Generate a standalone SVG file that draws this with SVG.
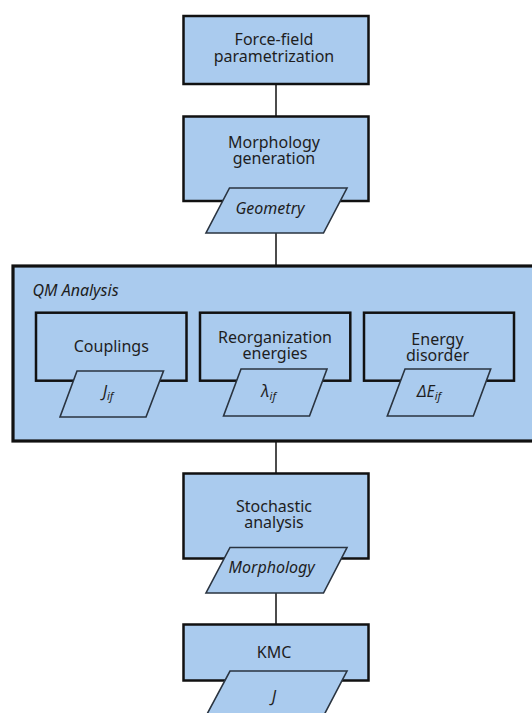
<svg xmlns="http://www.w3.org/2000/svg" width="532" height="713" viewBox="0 0 532 713">
<style>
.box{fill:#aacbee;stroke:#111;stroke-width:2.5}
.big{fill:#aacbee;stroke:#111;stroke-width:3.2}
.para{fill:#aacbee;stroke:#2a3440;stroke-width:1.6}
.conn{stroke:#111;stroke-width:1.5;fill:none}
text{font-family:"Noto Sans","Open Sans","DejaVu Sans",sans-serif;font-size:16px;fill:#1e1e1e;text-anchor:middle}
.it{font-style:italic}
.sub{font-size:11px}
.lab{text-anchor:start}
</style>
<rect x="0" y="0" width="532" height="713" fill="#fff"/>
<g id="connectors">
<line class="conn" x1="276" y1="84" x2="276" y2="116"/>
<line class="conn" x1="276" y1="233" x2="276" y2="266"/>
<line class="conn" x1="276" y1="441" x2="276" y2="473"/>
<line class="conn" x1="276" y1="593" x2="276" y2="625"/>
</g>
<g id="forcefield">
<rect class="box" x="183.5" y="16" width="185" height="68"/>
<text x="274" y="45">Force-field</text>
<text x="274" y="61.5">parametrization</text>
</g>
<g id="morphgen">
<rect class="box" x="183.5" y="116.5" width="185" height="84.5"/>
<text x="274" y="148.3">Morphology</text>
<text x="274" y="164.3">generation</text>
</g>
<g id="geometry">
<polygon class="para" points="229.5,188 347,188 323.5,233 206,233"/>
<text class="it" x="270" y="214.3">Geometry</text>
</g>
<g id="qm">
<rect class="big" x="13" y="266" width="540" height="175"/>
<text class="it lab" x="32.5" y="295.7">QM Analysis</text>
</g>
<g id="couplings">
<rect class="box" x="36" y="312.7" width="150.5" height="68"/>
<text x="111.3" y="352">Couplings</text>
</g>
<g id="jif">
<polygon class="para" points="77,371 163.5,371 146,417 60,417"/>
<text class="it" x="108" y="397"><tspan>J</tspan><tspan class="sub" dy="3">if</tspan></text>
</g>
<g id="reorg">
<rect class="box" x="200" y="312.7" width="150.3" height="68"/>
<text x="275" y="343.3">Reorganization</text>
<text x="275" y="359.3">energies</text>
</g>
<g id="lambda">
<polygon class="para" points="241,369 327,369 309.5,416 223.5,416"/>
<text class="it" x="268.5" y="397"><tspan>λ</tspan><tspan class="sub" dy="3">if</tspan></text>
</g>
<g id="energy">
<rect class="box" x="364" y="312.7" width="150" height="68"/>
<text x="437.5" y="345">Energy</text>
<text x="437.5" y="360.5">disorder</text>
</g>
<g id="deltae">
<polygon class="para" points="405,369 490.7,369 473.3,416 387.3,416"/>
<text class="it" x="429" y="397"><tspan>ΔE</tspan><tspan class="sub" dy="3">if</tspan></text>
</g>
<g id="stochastic">
<rect class="box" x="183.5" y="473.5" width="185" height="85"/>
<text x="274" y="512.3">Stochastic</text>
<text x="274" y="528.3">analysis</text>
</g>
<g id="morphology">
<polygon class="para" points="230,547.5 347,547.5 323.5,593 206,593"/>
<text class="it" x="271.7" y="573.3">Morphology</text>
</g>
<g id="kmc">
<rect class="box" x="183.5" y="624.5" width="185" height="56"/>
<text x="274" y="658.3">KMC</text>
</g>
<g id="j">
<polygon class="para" points="230,671 347,671 323.5,716 206,716"/>
<text class="it" x="274" y="701.7">J</text>
</g>
</svg>
